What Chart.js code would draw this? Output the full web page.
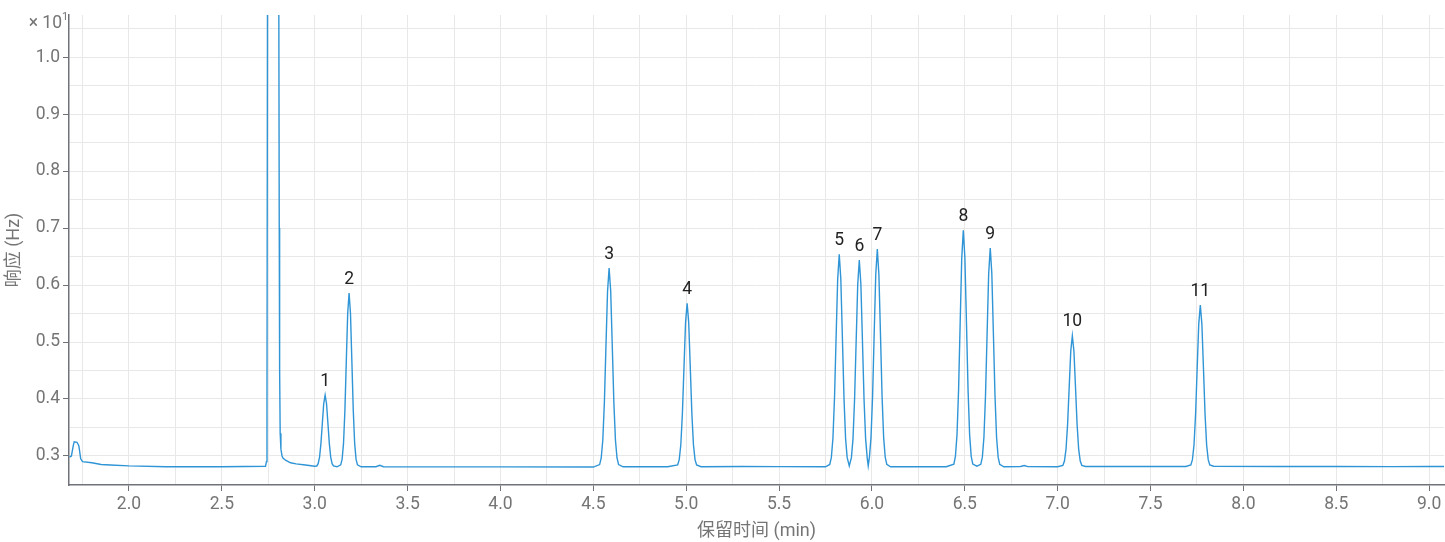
<!DOCTYPE html>
<html>
<head>
<meta charset="utf-8">
<script src="https://cdn.jsdelivr.net/npm/chart.js@4.4.1/dist/chart.umd.min.js"></script>
<style>
  html, body { margin: 0; padding: 0; background: #fff; }
  #chart { display: block; }
</style>
</head>
<body>
<canvas id="chart" width="1445" height="542"></canvas>
<script>
// retention time (min) and response (Hz, shown x 10^1)
const times = [
  // start bump and baseline
  1.68, 1.69, 1.70, 1.705, 1.72, 1.73, 1.74, 1.75, 1.80, 1.85, 1.90, 2.00, 2.20, 2.50, 2.735,
  // solvent peak
  2.740, 2.743, 2.746, 2.806, 2.809, 2.811, 2.814, 2.818, 2.824, 2.83, 2.845, 2.87, 2.90, 2.95, 3.00,
  // peak 1
  3.011, 3.0185, 3.026, 3.0335, 3.041, 3.0485, 3.056, 3.0635, 3.071, 3.0785, 3.086, 3.0935, 3.101, 3.12,
  // peak 2
  3.14, 3.1475, 3.155, 3.1625, 3.17, 3.1775, 3.185, 3.1925, 3.20, 3.2075, 3.215, 3.2225, 3.23, 3.25,
  3.33, 3.35, 3.37, 4.00, 4.50,
  // peak 3
  4.534, 4.5425, 4.551, 4.5595, 4.568, 4.5765, 4.585, 4.5935, 4.602, 4.6105, 4.619, 4.6275, 4.636, 4.66,
  4.90,
  // peak 4
  4.954, 4.9625, 4.971, 4.9795, 4.988, 4.9965, 5.005, 5.0135, 5.022, 5.0305, 5.039, 5.0475, 5.056, 5.08,
  5.30, 5.50, 5.75,
  // peaks 5, 6, 7
  5.773, 5.7815, 5.790, 5.7985, 5.807, 5.8155, 5.824, 5.8325, 5.841, 5.8495, 5.858, 5.8665,
  5.878,
  5.8895, 5.898, 5.9065, 5.915, 5.9235, 5.932, 5.9405, 5.949, 5.9575, 5.966, 5.9745,
  5.980,
  5.9865, 5.995, 6.0035, 6.012, 6.0205, 6.029, 6.0375, 6.046, 6.0545, 6.063, 6.0715, 6.080, 6.10,
  6.30, 6.40,
  // peak 8
  6.441, 6.4495, 6.458, 6.4665, 6.475, 6.4835, 6.492, 6.5005, 6.509, 6.5175, 6.526, 6.5345, 6.543, 6.565,
  // peak 9
  6.586, 6.5945, 6.603, 6.6115, 6.620, 6.6285, 6.637, 6.6455, 6.654, 6.6625, 6.671, 6.6795, 6.688, 6.71,
  6.80, 6.82, 6.84, 7.00,
  // peak 10
  7.028, 7.0365, 7.045, 7.0535, 7.062, 7.0705, 7.079, 7.0875, 7.096, 7.1045, 7.113, 7.1215, 7.130, 7.15,
  7.40, 7.69,
  // peak 11
  7.717, 7.7255, 7.734, 7.7425, 7.751, 7.7595, 7.768, 7.7765, 7.785, 7.7935, 7.802, 7.8105, 7.819, 7.84,
  8.20, 8.50, 8.80, 9.00, 9.08
];
const response = [
  0.298, 0.300, 0.318, 0.325, 0.324, 0.318, 0.295, 0.290, 0.288, 0.285, 0.284, 0.2825, 0.281, 0.281, 0.282,
  0.290, 0.400, 1.200, 1.200, 0.700, 0.450, 0.340, 0.312, 0.300, 0.296, 0.292, 0.288, 0.286, 0.284, 0.282,
  0.2824, 0.2865, 0.298, 0.322, 0.3575, 0.392, 0.407, 0.392, 0.3575, 0.322, 0.298, 0.2865, 0.2824, 0.281,
  0.2844, 0.2944, 0.322, 0.380, 0.466, 0.550, 0.586, 0.550, 0.466, 0.380, 0.322, 0.2944, 0.2844, 0.281,
  0.281, 0.2835, 0.281, 0.2808, 0.2805,
  0.2848, 0.2964, 0.328, 0.394, 0.493, 0.589, 0.630, 0.589, 0.493, 0.394, 0.328, 0.2964, 0.2848, 0.281,
  0.281,
  0.2842, 0.2936, 0.3197, 0.3743, 0.455, 0.534, 0.568, 0.534, 0.455, 0.3743, 0.3197, 0.2936, 0.2842, 0.281,
  0.2815, 0.2812, 0.281,
  0.2851, 0.2974, 0.331, 0.402, 0.507, 0.610, 0.654, 0.610, 0.507, 0.402, 0.331, 0.2974,
  0.2825,
  0.297, 0.330, 0.399, 0.501, 0.601, 0.644, 0.601, 0.501, 0.399, 0.330, 0.297,
  0.2825,
  0.2978, 0.3326, 0.405, 0.513, 0.618, 0.663, 0.618, 0.513, 0.405, 0.3326, 0.2978, 0.2852, 0.281,
  0.281, 0.281,
  0.2856, 0.2993, 0.337, 0.416, 0.533, 0.647, 0.696, 0.647, 0.533, 0.416, 0.337, 0.2993, 0.2856, 0.282,
  0.2852, 0.2979, 0.3328, 0.406, 0.514, 0.620, 0.665, 0.620, 0.514, 0.406, 0.3328, 0.2979, 0.2852, 0.281,
  0.2815, 0.2832, 0.2813, 0.281,
  0.2835, 0.2911, 0.312, 0.3558, 0.4206, 0.484, 0.511, 0.484, 0.4206, 0.3558, 0.312, 0.2911, 0.2835, 0.2815,
  0.2815, 0.2815,
  0.2841, 0.2935, 0.3193, 0.3733, 0.453, 0.531, 0.565, 0.531, 0.453, 0.3733, 0.3193, 0.2935, 0.2841, 0.282,
  0.2815, 0.2815, 0.2813, 0.2815, 0.2815
];

// numbered peaks
const peakLabels = ['1', '2', '3', '4', '5', '6', '7', '8', '9', '10', '11'];
const peakTimes = [3.056, 3.185, 4.585, 5.005, 5.824, 5.932, 6.029, 6.492, 6.637, 7.079, 7.768];
const peakHeights = [0.407, 0.586, 0.630, 0.568, 0.654, 0.644, 0.663, 0.696, 0.665, 0.511, 0.565];

const FONT = 'Roboto, "Noto Sans CJK SC", sans-serif';
const GREY = '#757575';
const AXIS = '#6f7278';

const onStep = (v, step) => Math.abs(v / step - Math.round(v / step)) < 1e-6;
const stepTicks = (from, to, step) => {
  const out = [];
  for (let v = from; v <= to + 1e-9; v += step) out.push({ value: Math.round(v * 1000) / 1000 });
  return out;
};

const peakLabelPlugin = {
  id: 'peakLabels',
  afterDatasetsDraw(chart) {
    const { ctx, scales: { x, y } } = chart;
    ctx.save();
    ctx.font = '17.5px ' + FONT;
    ctx.fillStyle = '#222';
    ctx.textAlign = 'center';
    ctx.textBaseline = 'bottom';
    peakLabels.forEach((lab, i) => {
      ctx.fillText(lab, x.getPixelForValue(peakTimes[i]), y.getPixelForValue(peakHeights[i]) - 5);
    });
    ctx.restore();
  }
};

const exponentPlugin = {
  id: 'exponent',
  afterDraw(chart) {
    const ctx = chart.ctx;
    ctx.save();
    ctx.fillStyle = GREY;
    ctx.textBaseline = 'alphabetic';
    ctx.textAlign = 'right';
    ctx.font = '17.5px ' + FONT;
    ctx.fillText('\u00d7 10', 62, 28);
    ctx.textAlign = 'left';
    ctx.font = '11px ' + FONT;
    ctx.fillText('1', 62, 20);
    ctx.restore();
  }
};

new Chart(document.getElementById('chart').getContext('2d'), {
  type: 'line',
  data: {
    datasets: [{
      data: times.map((t, i) => ({ x: t, y: response[i] })),
      borderColor: '#3095d6',
      borderWidth: 1.4,
      pointRadius: 0,
      tension: 0,
      fill: false
    }]
  },
  options: {
    responsive: false,
    animation: false,
    layout: { padding: { top: 15, right: 1, left: 4, bottom: 0 } },
    plugins: { legend: { display: false }, tooltip: { enabled: false } },
    scales: {
      x: {
        type: 'linear',
        min: 1.677,
        max: 9.08,
        afterFit: s => { s.height = 57; },
        afterBuildTicks: s => { s.ticks = stepTicks(1.75, 9.0, 0.25); },
        ticks: {
          autoSkip: false,
          maxRotation: 0,
          color: GREY,
          font: { family: FONT, size: 17.5 },
          padding: 3,
          callback: v => onStep(v, 0.5) ? v.toFixed(1) : ''
        },
        grid: {
          color: '#e8e8e8',
          tickColor: c => onStep(c.tick.value, 0.5) ? AXIS : 'rgba(0,0,0,0)',
          tickLength: 6
        },
        border: { color: AXIS, width: 1.5 },
        title: {
          display: true,
          text: '保留时间 (min)',
          color: GREY,
          font: { family: FONT, size: 18 },
          padding: { top: 2, bottom: 0 }
        }
      },
      y: {
        min: 0.249,
        max: 1.074,
        afterFit: s => { s.width = 65; },
        afterBuildTicks: s => { s.ticks = stepTicks(0.3, 1.05, 0.05); },
        ticks: {
          autoSkip: false,
          color: GREY,
          font: { family: FONT, size: 17.5 },
          padding: 3,
          callback: v => onStep(v, 0.1) ? v.toFixed(1) : ''
        },
        grid: {
          color: '#e8e8e8',
          tickColor: c => onStep(c.tick.value, 0.1) ? AXIS : 'rgba(0,0,0,0)',
          tickLength: 6
        },
        border: { color: AXIS, width: 1.5 },
        title: {
          display: true,
          text: '响应 (Hz)',
          color: GREY,
          font: { family: FONT, size: 18 },
          padding: { top: 0, bottom: 2 }
        }
      }
    }
  },
  plugins: [peakLabelPlugin, exponentPlugin]
});
</script>
</body>
</html>
